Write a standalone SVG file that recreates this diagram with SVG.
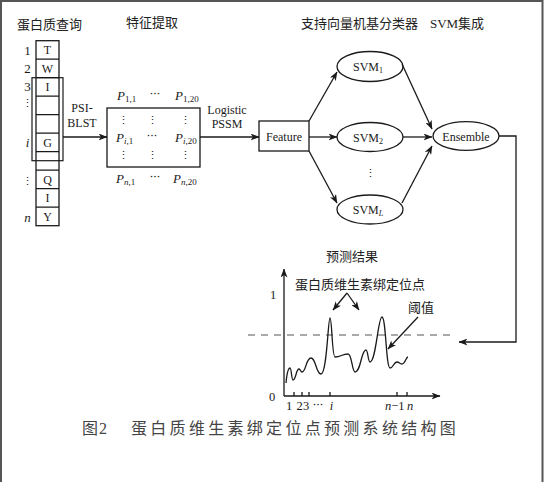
<svg xmlns="http://www.w3.org/2000/svg" width="544" height="482" viewBox="0 0 544 482">
<style>
.t{font-family:"Liberation Serif","Noto Sans CJK SC",serif;fill:#1a1a1a}
.c{font-family:"Liberation Serif","Noto Sans CJK SC",serif;font-size:13px;fill:#222}
.s{font-family:"Liberation Serif",serif;font-size:12px;fill:#1a1a1a}
.d{font-family:"DejaVu Serif",serif;font-size:11px;fill:#1a1a1a}
.it{font-style:italic}
.ln{stroke:#1a1a1a;stroke-width:1.3;fill:none}
.bx{stroke:#1a1a1a;stroke-width:1.3;fill:#fff}
</style>
<defs>
<marker id="ah" markerWidth="9" markerHeight="7" refX="8.5" refY="3.5" orient="auto" markerUnits="userSpaceOnUse">
<path d="M0,0 L9,3.5 L0,7 L2.5,3.5 Z" fill="#1a1a1a"/>
</marker>
</defs>
<rect x="0" y="0" width="544" height="482" fill="#fff"/>
<path d="M1,482 V1 H542.5 V482" fill="none" stroke="#555" stroke-width="2"/>

<!-- headings -->
<g id="headings">
<text class="c" x="17" y="28.5">蛋白质查询</text>
<text class="c" x="152" y="27" text-anchor="middle">特征提取</text>
<text class="c" x="359.5" y="27.5" text-anchor="middle">支持向量机基分类器</text>
<text class="c" x="457" y="27.5" text-anchor="middle">SVM集成</text>
<text class="c" x="352" y="260.5" text-anchor="middle">预测结果</text>
</g>

<!-- sequence column -->
<g id="sequence">
<rect class="bx" x="36" y="40.7" width="23" height="185"/>
<path class="ln" d="M36,59.2H59M36,77.7H59M36,96.2H59M36,114.7H59M36,133.2H59M36,151.7H59M36,170.2H59M36,188.7H59M36,207.2H59"/>
<g class="s" text-anchor="middle">
<text x="47.5" y="54.2">T</text>
<text x="47.5" y="72.7">W</text>
<text x="47.5" y="91.2">I</text>
<text x="47.5" y="146.7">G</text>
<text x="47.5" y="183.7">Q</text>
<text x="47.5" y="202.2">I</text>
<text x="47.5" y="220.7">Y</text>
</g>
<g class="t" font-size="13" text-anchor="middle">
<text x="27.5" y="54.5">1</text>
<text x="27.5" y="72.5">2</text>
<text x="27.5" y="91">3</text>
<text x="27.5" y="146.5" class="t it">i</text>
<text x="27.5" y="221.5" class="t it">n</text>
</g>
<text class="d" x="27.5" y="107" text-anchor="middle">⋮</text>
<text class="d" x="27.5" y="185" text-anchor="middle">⋮</text>
</g>
<g id="window">
<rect x="32" y="77.7" width="31" height="83" fill="none" stroke="#1a1a1a" stroke-width="1.2"/>
</g>

<!-- PSSM matrix -->
<g id="matrix">
<rect class="bx" x="107" y="108" width="93" height="59"/>
<g class="t" font-size="13">
<text x="117" y="99.5"><tspan class="it">P</tspan><tspan font-size="9" dy="2">1,1</tspan></text>
<text x="175" y="99.5"><tspan class="it">P</tspan><tspan font-size="9" dy="2">1,20</tspan></text>
<text x="116" y="141.5"><tspan class="it">P</tspan><tspan font-size="9" dy="2" class="it">i</tspan><tspan font-size="9">,1</tspan></text>
<text x="175" y="141.5"><tspan class="it">P</tspan><tspan font-size="9" dy="2" class="it">i</tspan><tspan font-size="9">,20</tspan></text>
<text x="116" y="182.5"><tspan class="it">P</tspan><tspan font-size="9" dy="2" class="it">n</tspan><tspan font-size="9">,1</tspan></text>
<text x="173" y="182.5"><tspan class="it">P</tspan><tspan font-size="9" dy="2" class="it">n</tspan><tspan font-size="9">,20</tspan></text>
</g>
<g class="d" text-anchor="middle">
<text x="155" y="98">···</text>
<text x="152" y="140">···</text>
<text x="155" y="181">···</text>
<text x="123.5" y="124">⋮</text>
<text x="152" y="124">⋮</text>
<text x="185" y="124">⋮</text>
<text x="123.5" y="159">⋮</text>
<text x="152" y="159">⋮</text>
<text x="185" y="159">⋮</text>
</g>
</g>

<!-- Feature -->
<g id="feature">
<rect class="bx" x="259" y="121" width="50" height="30"/>
<text class="s" x="284" y="140.5" text-anchor="middle" font-size="12.5">Feature</text>
</g>

<!-- SVMs -->
<g id="svm1">
<ellipse class="bx" cx="370" cy="66.5" rx="33" ry="15"/>
<text class="s" x="368" y="71" text-anchor="middle" font-size="12.5">SVM<tspan font-size="8" dy="2">1</tspan></text>
</g>
<g id="svm2">
<ellipse class="bx" cx="370" cy="137" rx="33" ry="14.5"/>
<text class="s" x="368" y="141.5" text-anchor="middle" font-size="12.5">SVM<tspan font-size="8" dy="2">2</tspan></text>
</g>
<g id="svm-dots">
<text class="d" x="370" y="177" text-anchor="middle">⋮</text>
</g>
<g id="svmL">
<ellipse class="bx" cx="370" cy="209.5" rx="33" ry="14.5"/>
<text class="s" x="368" y="214" text-anchor="middle" font-size="12.5">SVM<tspan font-size="8" dy="2" font-style="italic">L</tspan></text>
</g>
<g id="ensemble">
<ellipse class="bx" cx="466" cy="136" rx="33" ry="14.3"/>
<text class="s" x="466" y="140.5" text-anchor="middle" font-size="12.5">Ensemble</text>
</g>

<!-- connectors -->
<g id="connectors">
<line class="ln" x1="63" y1="137" x2="107" y2="137" marker-end="url(#ah)"/>
<text class="s" x="82" y="112" text-anchor="middle">PSI-</text>
<text class="s" x="82" y="127" text-anchor="middle">BLST</text>
<line class="ln" x1="200" y1="137" x2="259" y2="137" marker-end="url(#ah)"/>
<text class="s" x="227" y="114" text-anchor="middle">Logistic</text>
<text class="s" x="227" y="127.5" text-anchor="middle">PSSM</text>
<line class="ln" x1="309" y1="121" x2="337" y2="72" marker-end="url(#ah)"/>
<line class="ln" x1="309" y1="137" x2="337" y2="137" marker-end="url(#ah)"/>
<line class="ln" x1="309" y1="151" x2="337" y2="203" marker-end="url(#ah)"/>
<line class="ln" x1="402" y1="64" x2="432" y2="129" marker-end="url(#ah)"/>
<line class="ln" x1="403" y1="137" x2="432" y2="137" marker-end="url(#ah)"/>
<line class="ln" x1="402" y1="203" x2="432" y2="146" marker-end="url(#ah)"/>
<polyline class="ln" points="499,136 516,136 516,342 459,342" marker-end="url(#ah)"/>
</g>

<!-- result plot -->
<g id="plot">
<line class="ln" x1="284" y1="396" x2="284" y2="269" marker-end="url(#ah)"/>
<line class="ln" x1="284" y1="396" x2="440" y2="396" marker-end="url(#ah)"/>
<path class="ln" d="M294,396v-4M302,396v-4M309,396v-4M330,396v-4M397,396v-4M407,396v-4"/>
<line x1="248" y1="335" x2="452" y2="335" stroke="#555" stroke-width="1.2" stroke-dasharray="7,6"/>
<path class="ln" d="M286,383 C287,372 288,368 290,368 C291.5,368 291.5,380 293,380 C296,380 296,369 299,369 C300.5,369 300.5,372 302,372 C306,372 306,358 311,358 C316,358 316,374 321,374 C327,374 328,318 330,318 C332,318 332,357 335,357 C341,357 342,354 348,354 C352,354 352,372 355,372 C361,372 361,350 366,350 C368,350 368,362 370,362 C376,362 378,317 382,317 C386,317 386,368 390,368 C393.5,368 393.5,362 397,362 C399.5,362 399.5,364 402,364 C405,364 406,357 408,357"/>
<g class="t" font-size="12.5">
<text x="273" y="298.5" text-anchor="middle">1</text>
<text x="272" y="400.5" text-anchor="middle">0</text>
<text x="289" y="409.5" text-anchor="middle">1</text>
<text x="299.5" y="409.5" text-anchor="middle">2</text>
<text x="306" y="409.5" text-anchor="middle">3</text>
<text x="331.5" y="409.5" text-anchor="middle" class="t it">i</text>
<text x="385" y="409.5"><tspan class="it">n</tspan>−1</text>
<text x="410" y="409.5" text-anchor="middle" class="t it">n</text>
</g>
<text class="d" x="318" y="408.5" text-anchor="middle">···</text>
<text class="c" x="295" y="288.5">蛋白质维生素绑定位点</text>
<text class="c" x="408" y="311.5">阈值</text>
<line class="ln" x1="347" y1="293" x2="333" y2="310" marker-end="url(#ah)"/>
<line class="ln" x1="347" y1="293" x2="359" y2="310" marker-end="url(#ah)"/>
<line class="ln" x1="418" y1="317" x2="388" y2="349" marker-end="url(#ah)"/>
</g>

<!-- caption -->
<g id="caption">
<text x="82" y="434" font-family="'Liberation Serif','Noto Sans CJK SC',serif" font-size="16" fill="#444" letter-spacing="1">图2</text>
<text x="131" y="434" font-family="'Liberation Serif','Noto Sans CJK SC',serif" font-size="16" fill="#444" letter-spacing="3.3">蛋白质维生素绑定位点预测系统结构图</text>
</g>
</svg>
